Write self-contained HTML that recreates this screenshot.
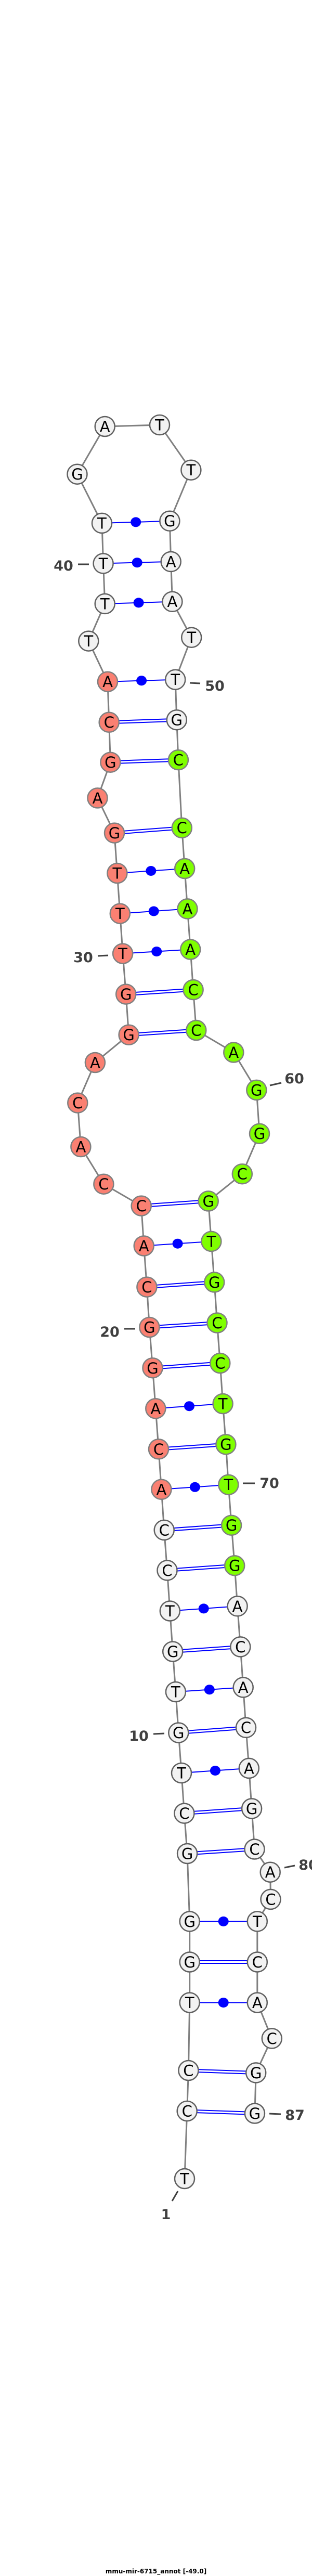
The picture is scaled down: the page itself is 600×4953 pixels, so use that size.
<!DOCTYPE html>
<html><head><meta charset="utf-8"><style>
html,body{margin:0;padding:0;background:#fff;}
svg{display:block;}
.bb{fill:none;stroke:#808080;stroke-width:3;}
.p{stroke:#0000ff;stroke-width:2;}
.d{fill:#0000ff;}
.n{stroke:#606060;stroke-width:2.5;fill:#f2f2f2;}
.r{fill:#fa8072;stroke:#808080;}
.g{fill:#7fff00;stroke:#808080;}
.t{font-family:"DejaVu Sans","Liberation Sans",sans-serif;font-size:29px;text-anchor:middle;fill:#000;}
.l{font-family:"DejaVu Sans","Liberation Sans",sans-serif;font-size:27px;font-weight:bold;fill:#404040;text-anchor:middle;}
.k{stroke:#404040;stroke-width:3;}
.ti{font-family:"DejaVu Sans","Liberation Sans",sans-serif;font-size:12px;font-weight:bold;fill:#000;text-anchor:middle;}
</style></head><body>
<svg width="600" height="4953" viewBox="0 0 600 4953" xmlns="http://www.w3.org/2000/svg">
<polyline class="bb" points="355,4189 359.7,4059 362.4,3981 364.7,3850.5 364.7,3772.5 364.7,3694.4 360.1,3564 354.4,3486.6 349,3409 343.3,3331.6 337.9,3253 332.2,3175.5 326.8,3097.5 321.5,3019.4 315.7,2941.9 310.4,2863.8 305,2786.3 299.3,2708.3 293.5,2630.2 287.4,2552 282.4,2474.6 276.7,2395.5 271.7,2318.6 199.4,2276.7 155.4,2205 149.3,2120.6 182.9,2043 247.6,1989.7 242.2,1911.6 236.1,1833.5 230.8,1756.6 225.4,1679 220,1601.6 187.5,1534.4 212.4,1465.7 209.7,1388.8 207,1310.7 170.3,1232.6 201.7,1160.9 198.6,1083.4 196,1005.9 148.5,911.7 201.7,820 307,817 367.4,903.7 326.4,1001.8 328.7,1079.9 331.4,1156.8 368.2,1225.7 337.2,1306.7 339.8,1384.2 342.9,1461.1 349.8,1591.8 355.2,1670 360.5,1747.4 366.2,1825.5 371.6,1903 377.3,1981 449.3,2023.5 493.3,2095.9 499,2179.7 465.8,2257.2 400.7,2309.4 406.4,2386.9 412.2,2465.4 417.5,2543.5 423.3,2621 428.6,2699 434.4,2777.2 439.3,2854.7 445.1,2932.7 451.2,3010.2 456.6,3088.3 462.3,3166.4 467.7,3244.4 473,3321.8 478.8,3399.9 484.1,3477.4 489.5,3555.5 519.7,3599.7 520.5,3651.9 494.8,3694.4 494.8,3772.5 494.8,3850.5 522.8,3919.4 492.2,3985.4 489.9,4063.5"/>
<!-- pairs -->
<g class="p">
<line x1="359.7" y1="4056.5" x2="489.9" y2="4061"/><line x1="359.7" y1="4061.5" x2="489.9" y2="4066"/>
<line x1="362.4" y1="3978.5" x2="492.2" y2="3983"/><line x1="362.4" y1="3983.5" x2="492.2" y2="3988"/>
<line x1="364.7" y1="3850.5" x2="494.8" y2="3850.5"/>
<line x1="364.7" y1="3770" x2="494.8" y2="3770"/><line x1="364.7" y1="3775" x2="494.8" y2="3775"/>
<line x1="364.7" y1="3694.4" x2="494.8" y2="3694.4"/>
<line x1="360.1" y1="3561.5" x2="489.5" y2="3553"/><line x1="360.1" y1="3566.5" x2="489.5" y2="3558"/>
<line x1="354.4" y1="3484.1" x2="484.1" y2="3474.9"/><line x1="354.4" y1="3489.1" x2="484.1" y2="3479.9"/>
<line x1="349" y1="3409" x2="478.8" y2="3399.9"/>
<line x1="343.3" y1="3329.1" x2="473" y2="3319.3"/><line x1="343.3" y1="3334.1" x2="473" y2="3324.3"/>
<line x1="337.9" y1="3253" x2="467.7" y2="3244.4"/>
<line x1="332.2" y1="3173" x2="462.3" y2="3163.9"/><line x1="332.2" y1="3178" x2="462.3" y2="3168.9"/>
<line x1="326.8" y1="3097.5" x2="456.6" y2="3088.3"/>
<line x1="321.5" y1="3016.9" x2="451.2" y2="3007.7"/><line x1="321.5" y1="3021.9" x2="451.2" y2="3012.7"/>
<line x1="315.7" y1="2939.4" x2="445.1" y2="2930.2"/><line x1="315.7" y1="2944.4" x2="445.1" y2="2935.2"/>
<line x1="310.4" y1="2863.8" x2="439.3" y2="2854.7"/>
<line x1="305" y1="2783.8" x2="434.4" y2="2774.7"/><line x1="305" y1="2788.8" x2="434.4" y2="2779.7"/>
<line x1="299.3" y1="2708.3" x2="428.6" y2="2699"/>
<line x1="293.5" y1="2627.7" x2="423.3" y2="2618.5"/><line x1="293.5" y1="2632.7" x2="423.3" y2="2623.5"/>
<line x1="287.4" y1="2549.5" x2="417.5" y2="2541"/><line x1="287.4" y1="2554.5" x2="417.5" y2="2546"/>
<line x1="282.4" y1="2472.1" x2="412.2" y2="2462.9"/><line x1="282.4" y1="2477.1" x2="412.2" y2="2467.9"/>
<line x1="276.7" y1="2395.5" x2="406.4" y2="2386.9"/>
<line x1="271.7" y1="2316.1" x2="400.7" y2="2306.9"/><line x1="271.7" y1="2321.1" x2="400.7" y2="2311.9"/>
<line x1="247.6" y1="1987.2" x2="377.3" y2="1978.5"/><line x1="247.6" y1="1992.2" x2="377.3" y2="1983.5"/>
<line x1="242.2" y1="1909.1" x2="371.6" y2="1900.5"/><line x1="242.2" y1="1914.1" x2="371.6" y2="1905.5"/>
<line x1="236.1" y1="1833.5" x2="366.2" y2="1825.5"/>
<line x1="230.8" y1="1756.6" x2="360.5" y2="1747.4"/>
<line x1="225.4" y1="1679" x2="355.2" y2="1670"/>
<line x1="220" y1="1599.1" x2="349.8" y2="1589.3"/><line x1="220" y1="1604.1" x2="349.8" y2="1594.3"/>
<line x1="212.4" y1="1463.2" x2="342.9" y2="1458.6"/><line x1="212.4" y1="1468.2" x2="342.9" y2="1463.6"/>
<line x1="209.7" y1="1386.3" x2="339.8" y2="1381.7"/><line x1="209.7" y1="1391.3" x2="339.8" y2="1386.7"/>
<line x1="207" y1="1310.7" x2="337.2" y2="1306.7"/>
<line x1="201.7" y1="1160.9" x2="331.4" y2="1156.8"/>
<line x1="198.6" y1="1083.4" x2="328.7" y2="1079.9"/>
<line x1="196" y1="1005.9" x2="326.4" y2="1001.8"/>
</g>
<g class="d">
<ellipse cx="429.7" cy="3850.5" rx="10" ry="9.5"/>
<ellipse cx="429.7" cy="3694.4" rx="10" ry="9.5"/>
<ellipse cx="413.9" cy="3404.5" rx="10" ry="9.5"/>
<ellipse cx="402.8" cy="3248.7" rx="10" ry="9.5"/>
<ellipse cx="391.7" cy="3092.9" rx="10" ry="9.5"/>
<ellipse cx="374.9" cy="2859.3" rx="10" ry="9.5"/>
<ellipse cx="364" cy="2703.7" rx="10" ry="9.5"/>
<ellipse cx="341.6" cy="2391.2" rx="10" ry="9.5"/>
<ellipse cx="301.2" cy="1829.5" rx="10" ry="9.5"/>
<ellipse cx="295.7" cy="1752" rx="10" ry="9.5"/>
<ellipse cx="290.3" cy="1674.5" rx="10" ry="9.5"/>
<ellipse cx="272.1" cy="1308.7" rx="10" ry="9.5"/>
<ellipse cx="266.6" cy="1158.9" rx="10" ry="9.5"/>
<ellipse cx="263.7" cy="1081.7" rx="10" ry="9.5"/>
<ellipse cx="261.2" cy="1003.9" rx="10" ry="9.5"/>
</g>
<!-- label ticks -->
<g class="k">
<line x1="342" y1="4213" x2="331" y2="4232"/>
<line x1="295" y1="3334" x2="316" y2="3333"/>
<line x1="239" y1="2555" x2="260" y2="2555"/>
<line x1="188" y1="1838" x2="208" y2="1837"/>
<line x1="150" y1="1085" x2="171" y2="1085"/>
<line x1="365" y1="1313" x2="385" y2="1314"/>
<line x1="519" y1="2087" x2="541" y2="2082"/>
<line x1="467" y1="2852" x2="490" y2="2852"/>
<line x1="547" y1="3591" x2="567" y2="3587"/>
<line x1="518" y1="4064" x2="540" y2="4065"/>
</g>
<g>
<text class="l" x="319" y="4267">1</text>
<text class="l" x="267" y="3347">10</text>
<text class="l" x="211" y="2570">20</text>
<text class="l" x="160" y="1850">30</text>
<text class="l" x="122" y="1097">40</text>
<text class="l" x="413" y="1328">50</text>
<text class="l" x="566" y="2083">60</text>
<text class="l" x="518" y="2861">70</text>
<text class="l" x="593" y="3595">80</text>
<text class="l" x="567" y="4076">87</text>
</g>
<!-- nodes -->
<g class="n">
<circle cx="355" cy="4189" r="19"/>
<circle cx="359.7" cy="4059" r="19"/>
<circle cx="362.4" cy="3981" r="19"/>
<circle cx="364.7" cy="3850.5" r="19"/>
<circle cx="364.7" cy="3772.5" r="19"/>
<circle cx="364.7" cy="3694.4" r="19"/>
<circle cx="360.1" cy="3564" r="19"/>
<circle cx="354.4" cy="3486.6" r="19"/>
<circle cx="349" cy="3409" r="19"/>
<circle cx="343.3" cy="3331.6" r="19"/>
<circle cx="337.9" cy="3253" r="19"/>
<circle cx="332.2" cy="3175.5" r="19"/>
<circle cx="326.8" cy="3097.5" r="19"/>
<circle cx="321.5" cy="3019.4" r="19"/>
<circle cx="315.7" cy="2941.9" r="19"/>
<circle class="r" cx="310.4" cy="2863.8" r="19"/>
<circle class="r" cx="305" cy="2786.3" r="19"/>
<circle class="r" cx="299.3" cy="2708.3" r="19"/>
<circle class="r" cx="293.5" cy="2630.2" r="19"/>
<circle class="r" cx="287.4" cy="2552" r="19"/>
<circle class="r" cx="282.4" cy="2474.6" r="19"/>
<circle class="r" cx="276.7" cy="2395.5" r="19"/>
<circle class="r" cx="271.7" cy="2318.6" r="19"/>
<circle class="r" cx="199.4" cy="2276.7" r="19"/>
<circle class="r" cx="155.4" cy="2205" r="19"/>
<circle class="r" cx="149.3" cy="2120.6" r="19"/>
<circle class="r" cx="182.9" cy="2043" r="19"/>
<circle class="r" cx="247.6" cy="1989.7" r="19"/>
<circle class="r" cx="242.2" cy="1911.6" r="19"/>
<circle class="r" cx="236.1" cy="1833.5" r="19"/>
<circle class="r" cx="230.8" cy="1756.6" r="19"/>
<circle class="r" cx="225.4" cy="1679" r="19"/>
<circle class="r" cx="220" cy="1601.6" r="19"/>
<circle class="r" cx="187.5" cy="1534.4" r="19"/>
<circle class="r" cx="212.4" cy="1465.7" r="19"/>
<circle class="r" cx="209.7" cy="1388.8" r="19"/>
<circle class="r" cx="207" cy="1310.7" r="19"/>
<circle cx="170.3" cy="1232.6" r="19"/>
<circle cx="201.7" cy="1160.9" r="19"/>
<circle cx="198.6" cy="1083.4" r="19"/>
<circle cx="196" cy="1005.9" r="19"/>
<circle cx="148.5" cy="911.7" r="19"/>
<circle cx="201.7" cy="820" r="19"/>
<circle cx="307" cy="817" r="19"/>
<circle cx="367.4" cy="903.7" r="19"/>
<circle cx="326.4" cy="1001.8" r="19"/>
<circle cx="328.7" cy="1079.9" r="19"/>
<circle cx="331.4" cy="1156.8" r="19"/>
<circle cx="368.2" cy="1225.7" r="19"/>
<circle cx="337.2" cy="1306.7" r="19"/>
<circle cx="339.8" cy="1384.2" r="19"/>
<circle class="g" cx="342.9" cy="1461.1" r="19"/>
<circle class="g" cx="349.8" cy="1591.8" r="19"/>
<circle class="g" cx="355.2" cy="1670" r="19"/>
<circle class="g" cx="360.5" cy="1747.4" r="19"/>
<circle class="g" cx="366.2" cy="1825.5" r="19"/>
<circle class="g" cx="371.6" cy="1903" r="19"/>
<circle class="g" cx="377.3" cy="1981" r="19"/>
<circle class="g" cx="449.3" cy="2023.5" r="19"/>
<circle class="g" cx="493.3" cy="2095.9" r="19"/>
<circle class="g" cx="499" cy="2179.7" r="19"/>
<circle class="g" cx="465.8" cy="2257.2" r="19"/>
<circle class="g" cx="400.7" cy="2309.4" r="19"/>
<circle class="g" cx="406.4" cy="2386.9" r="19"/>
<circle class="g" cx="412.2" cy="2465.4" r="19"/>
<circle class="g" cx="417.5" cy="2543.5" r="19"/>
<circle class="g" cx="423.3" cy="2621" r="19"/>
<circle class="g" cx="428.6" cy="2699" r="19"/>
<circle class="g" cx="434.4" cy="2777.2" r="19"/>
<circle class="g" cx="439.3" cy="2854.7" r="19"/>
<circle class="g" cx="445.1" cy="2932.7" r="19"/>
<circle class="g" cx="451.2" cy="3010.2" r="19"/>
<circle cx="456.6" cy="3088.3" r="19"/>
<circle cx="462.3" cy="3166.4" r="19"/>
<circle cx="467.7" cy="3244.4" r="19"/>
<circle cx="473" cy="3321.8" r="19"/>
<circle cx="478.8" cy="3399.9" r="19"/>
<circle cx="484.1" cy="3477.4" r="19"/>
<circle cx="489.5" cy="3555.5" r="19"/>
<circle cx="519.7" cy="3599.7" r="19"/>
<circle cx="520.5" cy="3651.9" r="19"/>
<circle cx="494.8" cy="3694.4" r="19"/>
<circle cx="494.8" cy="3772.5" r="19"/>
<circle cx="494.8" cy="3850.5" r="19"/>
<circle cx="522.8" cy="3919.4" r="19"/>
<circle cx="492.2" cy="3985.4" r="19"/>
<circle cx="489.9" cy="4063.5" r="19"/>
</g>
<g class="t">
<text x="355" y="4199.5">T</text>
<text x="359.7" y="4069.5">C</text>
<text x="362.4" y="3991.5">C</text>
<text x="364.7" y="3861">T</text>
<text x="364.7" y="3783">G</text>
<text x="364.7" y="3705">G</text>
<text x="360.1" y="3574.5">G</text>
<text x="354.4" y="3497">C</text>
<text x="349" y="3419.5">T</text>
<text x="343.3" y="3342">G</text>
<text x="337.9" y="3263.5">T</text>
<text x="332.2" y="3186">G</text>
<text x="326.8" y="3108">T</text>
<text x="321.5" y="3030">C</text>
<text x="315.7" y="2952.5">C</text>
<text x="310.4" y="2874.5">A</text>
<text x="305" y="2797">C</text>
<text x="299.3" y="2719">A</text>
<text x="293.5" y="2641">G</text>
<text x="287.4" y="2562.5">G</text>
<text x="282.4" y="2485">C</text>
<text x="276.7" y="2406">A</text>
<text x="271.7" y="2329">C</text>
<text x="199.4" y="2287">C</text>
<text x="155.4" y="2215.5">A</text>
<text x="149.3" y="2131">C</text>
<text x="182.9" y="2053.5">A</text>
<text x="247.6" y="2000">G</text>
<text x="242.2" y="1922">G</text>
<text x="236.1" y="1844">T</text>
<text x="230.8" y="1767">T</text>
<text x="225.4" y="1689.5">T</text>
<text x="220" y="1612">G</text>
<text x="187.5" y="1545">A</text>
<text x="212.4" y="1476">G</text>
<text x="209.7" y="1399">C</text>
<text x="207" y="1321">A</text>
<text x="170.3" y="1243">T</text>
<text x="201.7" y="1171.5">T</text>
<text x="198.6" y="1094">T</text>
<text x="196" y="1016.5">T</text>
<text x="148.5" y="922">G</text>
<text x="201.7" y="830.5">A</text>
<text x="307" y="827.5">T</text>
<text x="367.4" y="914">T</text>
<text x="326.4" y="1012">G</text>
<text x="328.7" y="1090.5">A</text>
<text x="331.4" y="1167">A</text>
<text x="368.2" y="1236">T</text>
<text x="337.2" y="1317">T</text>
<text x="339.8" y="1394.5">G</text>
<text x="342.9" y="1471.5">C</text>
<text x="349.8" y="1602">C</text>
<text x="355.2" y="1680.5">A</text>
<text x="360.5" y="1758">A</text>
<text x="366.2" y="1836">A</text>
<text x="371.6" y="1913.5">C</text>
<text x="377.3" y="1991.5">C</text>
<text x="449.3" y="2034">A</text>
<text x="493.3" y="2106.5">G</text>
<text x="499" y="2190">G</text>
<text x="465.8" y="2267.5">C</text>
<text x="400.7" y="2320">G</text>
<text x="406.4" y="2397.5">T</text>
<text x="412.2" y="2476">G</text>
<text x="417.5" y="2554">C</text>
<text x="423.3" y="2631.5">C</text>
<text x="428.6" y="2709.5">T</text>
<text x="434.4" y="2787.5">G</text>
<text x="439.3" y="2865">T</text>
<text x="445.1" y="2943">G</text>
<text x="451.2" y="3020.5">G</text>
<text x="456.6" y="3099">A</text>
<text x="462.3" y="3177">C</text>
<text x="467.7" y="3255">A</text>
<text x="473" y="3332">C</text>
<text x="478.8" y="3410.5">A</text>
<text x="484.1" y="3488">G</text>
<text x="489.5" y="3566">C</text>
<text x="519.7" y="3610">A</text>
<text x="520.5" y="3662.5">C</text>
<text x="494.8" y="3705">T</text>
<text x="494.8" y="3783">C</text>
<text x="494.8" y="3861">A</text>
<text x="522.8" y="3930">C</text>
<text x="492.2" y="3996">G</text>
<text x="489.9" y="4074">G</text>
</g>
<text class="ti" x="300" y="4948">mmu-mir-6715_annot [-49.0]</text>
</svg>
</body></html>
